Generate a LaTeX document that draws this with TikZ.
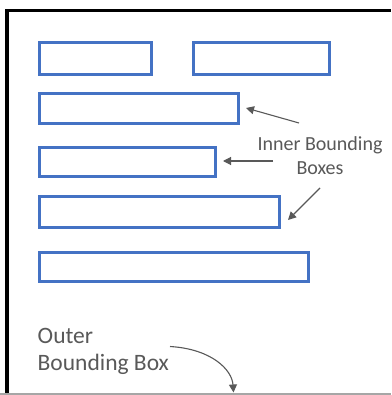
\documentclass[tikz,border=0pt]{standalone}
\usepackage{fontspec}
\setmainfont{Carlito}
\usetikzlibrary{arrows.meta}
\definecolor{boxblue}{HTML}{4472C4}
\definecolor{txtgrey}{HTML}{595959}
\definecolor{arrgrey}{HTML}{595959}
\tikzset{
  ibox/.style={draw=boxblue, line width=3pt, fill=white, rectangle, inner sep=0pt},
  lbl/.style={text=txtgrey, font=\fontsize{20}{24}\selectfont, inner sep=0pt},
  arr/.style={draw=arrgrey, line width=1.1pt, -{Triangle[length=8pt,width=8pt]}},
}
\begin{document}
\begin{tikzpicture}[x=1pt,y=-1pt]
\useasboundingbox (0,0) rectangle (391,395);
\fill[white] (0,0) rectangle (391,395);
% outer bounding box edges
\draw[black, line width=3.5pt] (7,395) -- (7,10.5) -- (391,10.5);
\draw[black!35, line width=1.3pt] (0,394) -- (391,394);
% inner boxes
\node[ibox, minimum width=112pt, minimum height=32pt] (b1) at (95.5,58.5) {};
\node[ibox, minimum width=136pt, minimum height=32pt] (b2) at (261.5,58.5) {};
\node[ibox, minimum width=199pt, minimum height=30pt] (b3) at (139,108.5) {};
\node[ibox, minimum width=176pt, minimum height=28pt] (b4) at (127.5,162) {};
\node[ibox, minimum width=240pt, minimum height=31pt] (b5) at (159.5,212) {};
\node[ibox, minimum width=269pt, minimum height=29pt] (b6) at (174,267) {};
% labels
\node[lbl, align=center, anchor=base] (inner) at (320,175) {Inner Bounding\\Boxes};
\node[lbl, align=left, anchor=base west, font=\fontsize{23.5}{27.5}\selectfont] (outer) at (37.5,370.5) {Outer\\Bounding Box};
% arrows
\coordinate (s1) at (299,123);
\coordinate (t1) at (246,108);
\coordinate (s2) at (273,161);
\coordinate (t2) at (223,161);
\coordinate (s3) at (320,188);
\coordinate (t3) at (288,220);
\coordinate (s4) at (170,346.5);
\coordinate (t4) at (233.5,392.5);
\draw[arr] (s1) -- (t1);
\draw[arr] (s2) -- (t2);
\draw[arr] (s3) -- (t3);
\draw[arr] (s4) .. controls (212,349) and (232,370) .. (t4);
\end{tikzpicture}
\end{document}
